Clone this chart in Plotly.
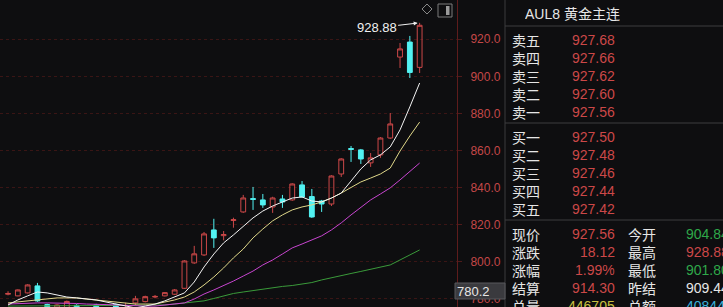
import plotly.graph_objects as go

W, H = 723, 307
BG = "#0e0e10"
RED = "#cc4848"
CYAN = "#52f2f2"
GREEN_TXT = "#2fa84a"
YELLOW_TXT = "#c8c040"
CYAN_TXT = "#3ab0d8"
WHITE_TXT = "#e6e6e6"

# ---------------- data ----------------
idx = list(range(43))
opens = [782.4, 781.5, 783.1, 786.9, 776.8, 772.0, 774.0, 776.4, 770.0, 776.6,
         771.0, 776.8, 772.0, 777.7, 778.4, 780.9, 781.5, 782.4, 785.6, 799.3,
         803.6, 817.1, 814.0, 822.2, 826.8, 834.0, 833.3, 829.5, 833.8, 833.3,
         841.4, 835.1, 832.7, 831.1, 847.3, 861.0, 860.3, 853.3, 857.6, 866.7,
         910.4, 918.5, 904.84]
highs = [784.0, 785.0, 787.8, 788.5, 777.3, 777.0, 779.0, 777.0, 775.0, 777.2,
         775.0, 777.4, 777.8, 781.5, 781.6, 782.0, 783.6, 785.2, 800.8, 808.5,
         816.0, 823.1, 816.5, 823.7, 836.0, 840.3, 836.5, 835.0, 836.0, 842.3,
         843.5, 839.2, 833.3, 846.6, 855.8, 862.4, 860.8, 858.6, 867.2, 880.2,
         918.0, 921.8, 928.88]
lows = [781.8, 781.3, 782.8, 778.3, 769.0, 771.0, 773.0, 770.0, 769.0, 771.0,
        770.0, 771.0, 771.0, 776.5, 778.0, 780.2, 781.2, 782.0, 785.3, 798.8,
        803.0, 807.4, 811.5, 818.3, 826.3, 827.9, 829.0, 826.3, 829.0, 832.8,
        834.5, 823.6, 826.8, 830.0, 845.7, 853.8, 852.7, 851.1, 856.0, 866.2,
        904.5, 899.1, 901.80]
closes = [782.8, 784.7, 787.4, 778.8, 771.0, 776.6, 778.5, 772.0, 774.0, 772.5,
          774.5, 772.5, 775.0, 779.9, 781.1, 781.2, 783.25, 784.7, 800.35, 804.2,
          814.95, 812.8, 814.6, 822.6, 834.35, 833.6, 830.6, 834.35, 832.2, 841.9,
          834.9, 824.1, 831.1, 846.2, 855.4, 860.6, 855.4, 856.0, 866.7, 874.3,
          914.8, 902.1, 927.56]

ma5 = [776.6, 779.3, 781.5, 783.6, 783.1, 782.0, 780.9, 780.4, 779.8, 779.3,
       778.2, 777.1, 776.0, 775.0, 776.0, 777.1, 778.8, 780.9, 783.1, 789.0,
       797.1, 804.1, 810.1, 814.4, 819.2, 823.6, 827.3, 830.0, 832.2, 834.3,
       834.9, 832.7, 832.2, 834.3, 837.0, 843.5, 850.0, 854.9, 857.6, 861.9,
       871.1, 883.5, 896.4]
ma10 = [777.7, 778.2, 778.8, 779.3, 779.8, 780.4, 780.4, 780.4, 779.8, 779.3,
        778.8, 778.2, 777.7, 777.1, 777.1, 777.1, 778.2, 779.3, 780.9, 783.6,
        787.4, 791.7, 796.6, 802.0, 806.8, 812.8, 817.6, 822.0, 825.2, 827.9,
        829.5, 830.6, 832.2, 834.3, 837.0, 839.8, 843.0, 845.1, 847.3, 850.5,
        859.7, 867.8, 875.3]
ma20 = [777.1, 777.4, 777.7, 777.7, 777.7, 777.7, 777.7, 777.4, 777.1, 777.1,
        776.8, 776.6, 776.3, 776.0, 776.0, 776.0, 776.6, 777.1, 777.7, 779.8,
        782.5, 784.7, 786.9, 789.5, 792.2, 794.9, 798.2, 800.9, 804.1, 807.4,
        809.5, 811.7, 813.9, 817.1, 820.9, 825.2, 829.5, 833.3, 836.5, 839.8,
        844.1, 848.4, 853.2]
ma60 = [776.0, 776.0, 776.1, 776.1, 776.1, 776.2, 776.2, 776.2, 776.2, 776.3,
        776.3, 776.3, 776.4, 776.4, 776.5, 776.5, 776.6, 777.1, 777.7, 778.2,
        778.8, 780.1, 781.5, 782.8, 783.6, 784.4, 785.2, 786.0, 786.6, 787.1,
        787.7, 788.7, 790.1, 791.4, 792.5, 793.6, 794.7, 795.8, 796.8, 798.2,
        800.9, 803.6, 806.3]

tick_vals = [780, 800, 820, 840, 860, 880, 900, 920]
tick_text = ["780.0", "800.0", "820.0", "840.0", "860.0", "880.0", "900.0", "920.0"]
high_label = "928.88"
cross_label = "780.2"

header = "AUL8 黄金主连"
ask_labels = ["卖五", "卖四", "卖三", "卖二", "卖一"]
ask_prices = ["927.68", "927.66", "927.62", "927.60", "927.56"]
bid_labels = ["买一", "买二", "买三", "买四", "买五"]
bid_prices = ["927.50", "927.48", "927.46", "927.44", "927.42"]
stat_labels_l = ["现价", "涨跌", "涨幅", "结算", "总量"]
stat_values_l = ["927.56", "18.12", "1.99%", "914.30", "446705"]
stat_colors_l = [RED, RED, RED, RED, YELLOW_TXT]
stat_labels_r = ["今开", "最高", "最低", "昨结", "总额"]
stat_values_r = ["904.84", "928.88", "901.80", "909.44", "408440"]
stat_colors_r = [GREEN_TXT, RED, GREEN_TXT, WHITE_TXT, CYAN_TXT]


def fx(px):
    return px / W


def fy(py):
    return 1 - py / H


NUM_FONT = "Liberation Sans, Arial, sans-serif"
CJK_FONT = "Noto Sans CJK SC, sans-serif"

fig = go.Figure()

for vals, col in [(ma60, "#3a9a3a"), (ma20, "#c845d0"), (ma10, "#e0d88a"), (ma5, "#f4f4f4")]:
    fig.add_trace(go.Scatter(x=idx, y=vals, mode="lines",
                             line=dict(color=col, width=1),
                             hoverinfo="skip", showlegend=False))

fig.add_trace(go.Candlestick(
    x=idx, open=opens, high=highs, low=lows, close=closes,
    increasing=dict(line=dict(color=RED, width=1), fillcolor="rgba(0,0,0,0)"),
    decreasing=dict(line=dict(color=CYAN, width=1), fillcolor=CYAN),
    whiskerwidth=0, showlegend=False, hoverinfo="skip"))

plot_right = 457
fig.update_layout(
    width=W, height=H,
    margin=dict(l=0, r=0, t=0, b=0),
    paper_bgcolor=BG, plot_bgcolor=BG,
    showlegend=False,
    xaxis=dict(domain=[0, plot_right / W], range=[-0.82, -0.82 + plot_right / 9.8],
               visible=False, rangeslider=dict(visible=False), fixedrange=True),
    yaxis=dict(domain=[0, 1], range=[775.5, 941.2], side="right",
               tickvals=tick_vals, ticktext=tick_text,
               tickfont=dict(color="#c44848", size=12, family=NUM_FONT),
               showgrid=True, gridcolor="#3a1515", griddash="dot", gridwidth=1,
               showline=True, linecolor="#5e1c1c", linewidth=1,
               ticks="outside", ticklen=4, tickcolor="#4e1a1a",
               ticklabelstandoff=6,
               zeroline=False, fixedrange=True),
)

shapes = []
# panel separators
shapes.append(dict(type="line", xref="paper", yref="paper", x0=fx(505), x1=fx(505),
                   y0=0, y1=1, line=dict(color="#3a3a3c", width=1), layer="above"))
for yy in [26, 123, 220]:
    shapes.append(dict(type="line", xref="paper", yref="paper", x0=fx(505), x1=1,
                       y0=fy(yy), y1=fy(yy), line=dict(color="#3c3c3e", width=1),
                       layer="above"))
# crosshair value box
shapes.append(dict(type="rect", xref="paper", yref="paper", x0=fx(455), x1=fx(505),
                   y0=fy(299), y1=fy(283), fillcolor="#3a3a3e",
                   line=dict(color="#58585c", width=1), layer="above"))
# icons
shapes.append(dict(type="path", xref="paper", yref="paper",
                   path="M %f,%f L %f,%f L %f,%f L %f,%f Z" % (
                       fx(427), fy(4), fx(432), fy(9), fx(427), fy(14), fx(422), fy(9)),
                   line=dict(color="#8a8a8a", width=1), layer="above"))
shapes.append(dict(type="rect", xref="paper", yref="paper", x0=fx(438), x1=fx(452),
                   y0=fy(17), y1=fy(4), line=dict(color="#7a7a7a", width=1),
                   fillcolor="rgba(0,0,0,0)", layer="above"))
shapes.append(dict(type="rect", xref="paper", yref="paper", x0=fx(446), x1=fx(449.5),
                   y0=fy(15), y1=fy(6), line=dict(width=0),
                   fillcolor="#9a9a9a", layer="above"))

ann = []


def txt(x, y, s, color, size=14, anchor="left", font=NUM_FONT):
    ann.append(dict(xref="paper", yref="paper", x=fx(x), y=fy(y), text=s,
                    showarrow=False, xanchor=anchor, yanchor="middle",
                    height=16, borderpad=0, valign="middle",
                    font=dict(color=color, size=size, family=font)))


txt(524, 14, header, WHITE_TXT, 14, font=NUM_FONT + ", Noto Sans CJK SC")
for k, yy in enumerate([40, 58, 76, 94, 112]):
    txt(511, yy, ask_labels[k], WHITE_TXT, 14, font=CJK_FONT)
    txt(616, yy, ask_prices[k], RED, 14, anchor="right")
for k, yy in enumerate([137, 155, 173, 191, 209]):
    txt(511, yy, bid_labels[k], WHITE_TXT, 14, font=CJK_FONT)
    txt(616, yy, bid_prices[k], RED, 14, anchor="right")
for k, yy in enumerate([234, 252, 270, 288, 306]):
    txt(511, yy, stat_labels_l[k], WHITE_TXT, 14, font=CJK_FONT)
    txt(616, yy, stat_values_l[k], stat_colors_l[k], 14, anchor="right")
    txt(627, yy, stat_labels_r[k], WHITE_TXT, 14, font=CJK_FONT)
    txt(685, yy, stat_values_r[k], stat_colors_r[k], 14)

txt(456, 291, cross_label, WHITE_TXT, 13)

# high marker
ann.append(dict(x=42, y=928.88, xref="x", yref="y", text=high_label,
                showarrow=True, ax=-43, ay=5, arrowhead=2, arrowsize=0.8,
                arrowwidth=1, arrowcolor="#f0f0f0", standoff=2,
                font=dict(color="#f0f0f0", size=13, family=NUM_FONT)))

fig.update_layout(shapes=shapes, annotations=ann)
fig.write_html("out.html")
